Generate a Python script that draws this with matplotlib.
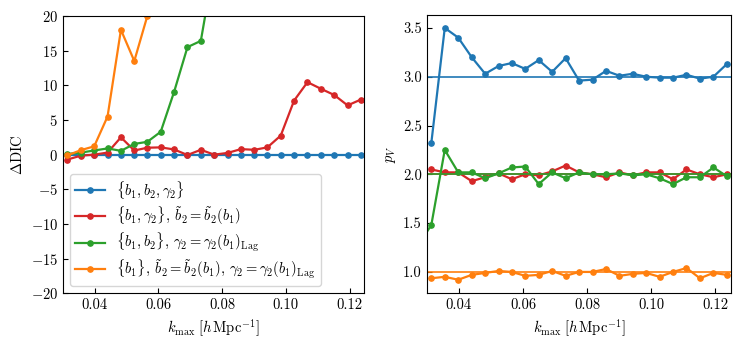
import numpy as np
import matplotlib
matplotlib.use('Agg')
import matplotlib.pyplot as plt

plt.rcParams['font.family'] = 'serif'
plt.rcParams['font.serif'] = ['cmr10']
plt.rcParams['mathtext.fontset'] = 'cm'
plt.rcParams['axes.formatter.use_mathtext'] = True
plt.rcParams['font.size'] = 10.5
plt.rcParams['xtick.direction'] = 'in'
plt.rcParams['ytick.direction'] = 'in'

# k_max values [h/Mpc]
kmax = [0.0314, 0.0356, 0.0398, 0.0440, 0.0482, 0.0524, 0.0565, 0.0607,
        0.0649, 0.0691, 0.0733, 0.0775, 0.0817, 0.0859, 0.0901, 0.0942,
        0.0984, 0.1026, 0.1068, 0.1110, 0.1152, 0.1194, 0.1236]
kmax_green_pv = [0.0272] + kmax

# Delta DIC
dic_blue = [0.0] * 23
dic_red = [-0.7, -0.15, 0.0, 0.3, 2.5, 0.6, 1.0, 1.05, 0.75, -0.05, 0.7, 0.0,
           0.25, 0.8, 0.7, 1.05, 2.75, 7.8, 10.45, 9.5, 8.6, 7.1, 7.95]
dic_green = [0.1, 0.3, 0.6, 0.9, 0.55, 1.55, 1.85, 3.3, 9.05, 15.5, 16.4, 27.5]
dic_orange = [-0.1, 0.65, 1.2, 5.5, 18.0, 13.5, 20.0, 30.0]

# effective number of parameters p_V
pv_blue = [2.32, 3.50, 3.40, 3.20, 3.03, 3.11, 3.14, 3.08, 3.17, 3.05, 3.19, 2.96,
           2.97, 3.06, 3.01, 3.03, 3.00, 2.99, 2.99, 3.02, 2.98, 3.00, 3.13]
pv_red = [2.05, 2.02, 2.02, 1.93, 1.97, 2.01, 1.95, 2.00, 1.99, 2.03, 2.09, 2.02,
          2.00, 1.97, 2.02, 1.99, 2.02, 2.02, 1.95, 2.05, 2.00, 1.97, 2.00]
pv_green = [1.27, 1.48, 2.25, 2.02, 2.02, 1.96, 2.01, 2.07, 2.08, 1.90, 2.02, 1.96,
            2.02, 2.00, 2.00, 2.01, 1.99, 2.00, 1.96, 1.90, 1.97, 1.97, 2.07, 1.98]
pv_orange = [0.935, 0.95, 0.92, 0.97, 0.99, 1.01, 1.00, 0.96, 0.97, 1.01, 0.96, 1.00,
             1.00, 1.03, 0.96, 0.98, 0.99, 0.95, 1.00, 1.04, 0.935, 0.99, 0.97]
n_params = [3, 2, 2, 1]

colors = ['#1f77b4', '#d62728', '#2ca02c', '#ff7f0e']
labels = [r'$\{b_1, b_2, \gamma_2\}$',
          r'$\{b_1, \gamma_2\}$, $\tilde{b}_2 = \tilde{b}_2(b_1)$',
          r'$\{b_1, b_2\}$, $\gamma_2 = \gamma_2(b_1)_{\mathrm{Lag}}$',
          r'$\{b_1\}$, $\tilde{b}_2 = \tilde{b}_2(b_1)$, $\gamma_2 = \gamma_2(b_1)_{\mathrm{Lag}}$']

fig = plt.figure(figsize=(7.41, 3.46), dpi=100)
ax1 = fig.add_axes([0.085, 0.152, 0.406, 0.802])
ax2 = fig.add_axes([0.576, 0.152, 0.411, 0.804])

dic = [dic_blue, dic_red, dic_green, dic_orange]
for d, c, lab in zip(dic, colors, labels):
    ax1.plot(kmax[:len(d)], d, '-o', color=c, lw=1.6, ms=3.8, label=lab)
ax1.set_xlim(0.030, 0.1245)
ax1.set_ylim(-20, 20)
ax1.set_yticks(np.arange(-20, 21, 5))
ax1.set_xticks([0.04, 0.06, 0.08, 0.10, 0.12])
ax1.set_xticklabels(['0.04', '0.06', '0.08', '0.10', '0.12'])
ax1.set_ylabel(r'$\Delta\mathrm{DIC}$')
ax1.set_xlabel(r'$k_{\mathrm{max}}\;[h\,\mathrm{Mpc}^{-1}]$')
ax1.legend(loc='lower left', fontsize=10.5, handlelength=2.0, labelspacing=0.25,
           borderpad=0.35)

pv = [(kmax, pv_blue), (kmax, pv_red), (kmax_green_pv, pv_green), (kmax, pv_orange)]
for (kk, p), c, n in zip(pv, colors, n_params):
    ax2.axhline(n, color=c, lw=1.2)
    ax2.plot(kk, p, '-o', color=c, lw=1.6, ms=3.8)
ax2.set_xlim(0.030, 0.125)
ax2.set_ylim(0.78, 3.63)
ax2.set_yticks([1.0, 1.5, 2.0, 2.5, 3.0, 3.5])
ax2.set_yticklabels(['1.0', '1.5', '2.0', '2.5', '3.0', '3.5'])
ax2.set_xticks([0.04, 0.06, 0.08, 0.10, 0.12])
ax2.set_xticklabels(['0.04', '0.06', '0.08', '0.10', '0.12'])
ax2.set_ylabel(r'$p_V$')
ax2.set_xlabel(r'$k_{\mathrm{max}}\;[h\,\mathrm{Mpc}^{-1}]$')

fig.savefig('out.png', dpi=100)
